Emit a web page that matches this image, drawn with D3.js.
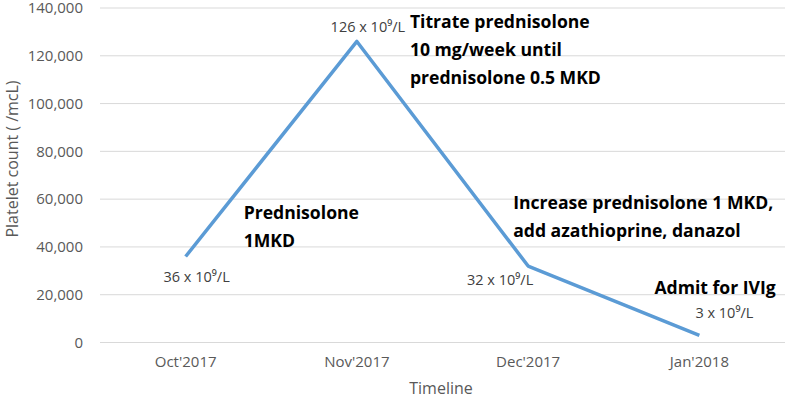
<!DOCTYPE html>
<html>
<head>
<meta charset="utf-8">
<style>
  body { margin: 0; background: #fff; }
  text { font-family: "Open Sans", Lato, sans-serif; }
</style>
</head>
<body>
<div id="chart"></div>
<script src="https://d3js.org/d3.v7.min.js"></script>
<script>
// data
var months = ["Oct'2017", "Nov'2017", "Dec'2017", "Jan'2018"];
var platelets = [36000, 126000, 32000, 3000];
var pointLabels = ["36 x 10⁹/L", "126 x 10⁹/L", "32 x 10⁹/L", "3 x 10⁹/L"];
var yTicks = [0, 20000, 40000, 60000, 80000, 100000, 120000, 140000];
var notes = [
  { month: "Oct'2017", value: 36000, lines: ["Prednisolone", "1MKD"] },
  { month: "Nov'2017", value: 126000, lines: ["Titrate prednisolone", "10 mg/week until", "prednisolone 0.5 MKD"] },
  { month: "Dec'2017", value: 32000, lines: ["Increase prednisolone 1 MKD,", "add azathioprine, danazol"] },
  { month: "Jan'2018", value: 3000, lines: ["Admit for IVIg"] }
];

var W = 787, H = 400;
var margin = { top: 8, right: 2, bottom: 57.5, left: 100 };
var width = W - margin.left - margin.right;
var height = H - margin.top - margin.bottom;

var svg = d3.select("#chart").append("svg")
  .attr("width", W).attr("height", H);
var g = svg.append("g")
  .attr("transform", "translate(" + margin.left + "," + margin.top + ")");

var x = d3.scaleBand().domain(months).range([0, width]);
var y = d3.scaleLinear().domain([0, 140000]).range([height, 0]);
function cx(m) { return x(m) + x.bandwidth() / 2; }

// gridlines
g.selectAll(".grid").data(yTicks).enter().append("line")
  .attr("x1", 0).attr("x2", width)
  .attr("y1", function(d) { return y(d); })
  .attr("y2", function(d) { return y(d); })
  .attr("stroke", "#d9d9d9").attr("stroke-width", 1);

// y axis
var yAxis = g.append("g")
  .call(d3.axisLeft(y).tickValues(yTicks).tickFormat(d3.format(",")).tickSize(0).tickPadding(17));
yAxis.select(".domain").remove();
yAxis.selectAll("text").attr("fill", "#595959").style("font-size", "15px")
  .style("font-family", "'Open Sans', sans-serif");

// x axis
var xAxis = g.append("g")
  .attr("transform", "translate(0," + height + ")")
  .call(d3.axisBottom(x).tickSize(0).tickPadding(14));
xAxis.select(".domain").remove();
xAxis.selectAll("text").attr("fill", "#595959").style("font-size", "15px")
  .style("font-family", "'Open Sans', sans-serif");

// axis titles
svg.append("text")
  .attr("x", 441).attr("y", 394)
  .attr("text-anchor", "middle")
  .attr("fill", "#595959").style("font-size", "16px")
  .text("Timeline");
svg.append("text")
  .attr("transform", "translate(18,159) rotate(-90)")
  .attr("text-anchor", "middle")
  .attr("fill", "#595959").style("font-size", "16px")
  .text("Platelet count ( /mcL)");

// line
var line = d3.line()
  .x(function(d, i) { return cx(months[i]); })
  .y(function(d) { return y(d); });
g.append("path").datum(platelets)
  .attr("fill", "none")
  .attr("stroke", "#5b9bd5")
  .attr("stroke-width", 3.5)
  .attr("stroke-linejoin", "round")
  .attr("d", line);

// point labels (offsets from each point)
var labelOffsets = [[11, 26], [11, -9], [-28, 19], [25, -17]];
g.selectAll(".plabel").data(platelets).enter().append("text")
  .attr("x", function(d, i) { return cx(months[i]) + labelOffsets[i][0]; })
  .attr("y", function(d, i) { return y(d) + labelOffsets[i][1]; })
  .attr("text-anchor", "middle")
  .attr("fill", "#404040").style("font-size", "14.5px")
  .text(function(d, i) { return pointLabels[i]; });

// annotation notes
var noteOffsets = [[58, -37], [53, -13], [-15, -57], [-45, -41]];
var noteG = g.selectAll(".note").data(notes).enter().append("text")
  .attr("fill", "#000")
  .style("font-size", "17.6px")
  .style("font-weight", "bold")
  .attr("transform", function(d, i) {
    return "translate(" + (cx(d.month) + noteOffsets[i][0]) + "," + (y(d.value) + noteOffsets[i][1]) + ")";
  });
noteG.selectAll("tspan").data(function(d) { return d.lines; }).enter().append("tspan")
  .attr("x", 0)
  .attr("y", function(d, i) { return i * 28; })
  .text(function(d) { return d; });
</script>
</body>
</html>
